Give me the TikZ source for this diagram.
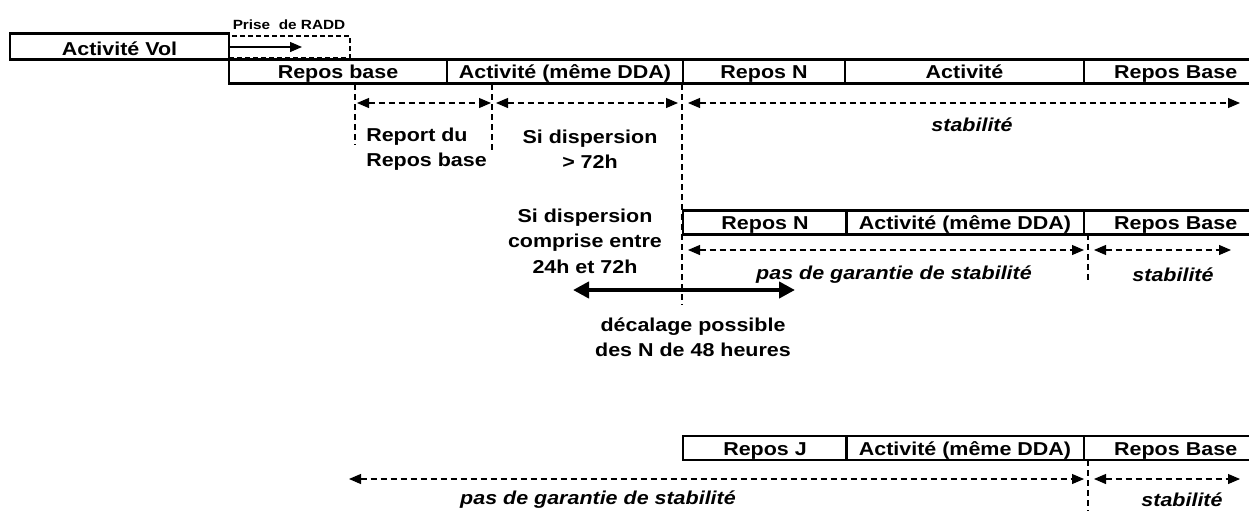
\documentclass[tikz,border=0pt]{standalone}
\usepackage{fontspec}
\setmainfont{Liberation Sans}[FakeStretch=1.15]
\usetikzlibrary{arrows.meta}
\begin{document}
\begin{tikzpicture}[x=0.75pt,y=-0.75pt,
  lbl/.style={font=\bfseries\fontsize{14}{19}\selectfont, inner sep=0pt, align=center},
  small/.style={font=\bfseries\fontsize{10}{12}\selectfont, inner sep=0pt},
  ital/.style={font=\bfseries\itshape\fontsize{14}{18}\selectfont, inner sep=0pt},
  cell/.style={draw, line width=2pt, minimum height=18pt, inner sep=0pt, text height=11pt, text depth=0.5pt, font=\bfseries\fontsize{14}{17}\selectfont},
  dimarrow/.style={line width=0.8pt, dash pattern=on 4.5pt off 3pt, {Triangle[length=9pt,width=7.5pt]}-{Triangle[length=9pt,width=7.5pt]}},
  guide/.style={line width=0.8pt, dash pattern=on 4.5pt off 3pt},
  bigarrow/.style={line width=3pt, {Triangle[length=12pt,width=12pt]}-{Triangle[length=12pt,width=12pt]}},
]
\useasboundingbox (0,0) rectangle (1249,511);

% top: Activite Vol and Prise de RADD
\node[cell, minimum width=164.25pt, minimum height=19.5pt, text height=13pt, text depth=0.2pt] (vol) at (119.5,46.5) {Activité Vol};
\node[draw, line width=1.3pt, dash pattern=on 3.5pt off 2.5pt, minimum width=90.75pt, minimum height=16.5pt, inner sep=0pt] (radd) at (289.5,47) {};
\node[small] (raddlbl) at (289,25) {Prise\ \ de RADD};
\coordinate (raddA) at (230,47);
\coordinate (raddB) at (302,47);
\draw[line width=1pt, -{Triangle[length=9pt,width=7.5pt]}] (raddA) -- (raddB);

% row 1
\node[cell, minimum width=163.5pt] (r1a) at (338,71.5) {Repos base};
\node[cell, minimum width=177pt] (r1b) at (565,71.5) {Activité (même DDA)};
\node[cell, minimum width=121.5pt] (r1c) at (764,71.5) {Repos N};
\node[cell, minimum width=179.25pt] (r1d) at (964.5,71.5) {Activité};
\node[cell, minimum width=127.5pt, text width=110pt, align=center] (r1e) at (1169,71.5) {\hspace*{10pt}Repos Base};

% row 1 guides
\coordinate (g1t) at (355,84); \coordinate (g1b) at (355,145);
\coordinate (g2t) at (492,84); \coordinate (g2b) at (492,150);
\coordinate (g3t) at (682,84); \coordinate (g3b) at (682,305);
\draw[guide] (g1t) -- (g1b);
\draw[guide] (g2t) -- (g2b);
\draw[guide] (g3t) -- (g3b);

% row 1 arrows
\coordinate (a1l) at (357,103); \coordinate (a1r) at (491,103);
\coordinate (a2l) at (496,103); \coordinate (a2r) at (678,103);
\coordinate (a3l) at (688,103); \coordinate (a3r) at (1240,103);
\draw[dimarrow] (a1l) -- (a1r);
\draw[dimarrow] (a2l) -- (a2r);
\draw[dimarrow] (a3l) -- (a3r);

\node[lbl, anchor=west, align=left] (report) at (366,149) {Report du\\Repos base};
\node[lbl] (disp72) at (590,149) {Si dispersion\\> 72h};
\node[ital] (stab1) at (972,125) {stabilité};

% middle
\node[lbl] (disp24) at (585,241) {Si dispersion\\comprise entre\\24h et 72h};
\coordinate (bl) at (573,290); \coordinate (br) at (795,290);
\draw[bigarrow] (bl) -- (br);
\node[lbl] (decal) at (693,337) {décalage possible\\des N de 48 heures};

% row 2
\node[cell, minimum width=123pt] (r2a) at (765,222.5) {Repos N};
\node[cell, minimum width=178.5pt] (r2b) at (965,222.5) {Activité (même DDA)};
\node[cell, minimum width=127.5pt, text width=110pt, align=center] (r2c) at (1169,222.5) {\hspace*{10pt}Repos Base};
\coordinate (b1l) at (688,250); \coordinate (b1r) at (1084,250);
\coordinate (b2l) at (1094,250); \coordinate (b2r) at (1231,250);
\draw[dimarrow] (b1l) -- (b1r);
\draw[dimarrow] (b2l) -- (b2r);
\coordinate (g4t) at (1088,234); \coordinate (g4b) at (1088,283);
\draw[guide] (g4t) -- (g4b);
\node[ital] (pas2) at (894,275) {pas de garantie de stabilité};
\node[ital] (stab2) at (1173,275) {stabilité};

% row 3
\node[cell, minimum width=123pt] (r3a) at (765,448) {Repos J};
\node[cell, minimum width=178.5pt] (r3b) at (965,448) {Activité (même DDA)};
\node[cell, minimum width=127.5pt, text width=110pt, align=center] (r3c) at (1169,448) {\hspace*{10pt}Repos Base};
\coordinate (c1l) at (349,479); \coordinate (c1r) at (1084,479);
\coordinate (c2l) at (1094,479); \coordinate (c2r) at (1240,479);
\draw[dimarrow] (c1l) -- (c1r);
\draw[dimarrow] (c2l) -- (c2r);
\coordinate (g5t) at (1088,460); \coordinate (g5b) at (1088,511);
\draw[guide] (g5t) -- (g5b);
\node[ital] (pas3) at (598,500) {pas de garantie de stabilité};
\node[ital] (stab3) at (1182,500) {stabilité};
\end{tikzpicture}
\end{document}
